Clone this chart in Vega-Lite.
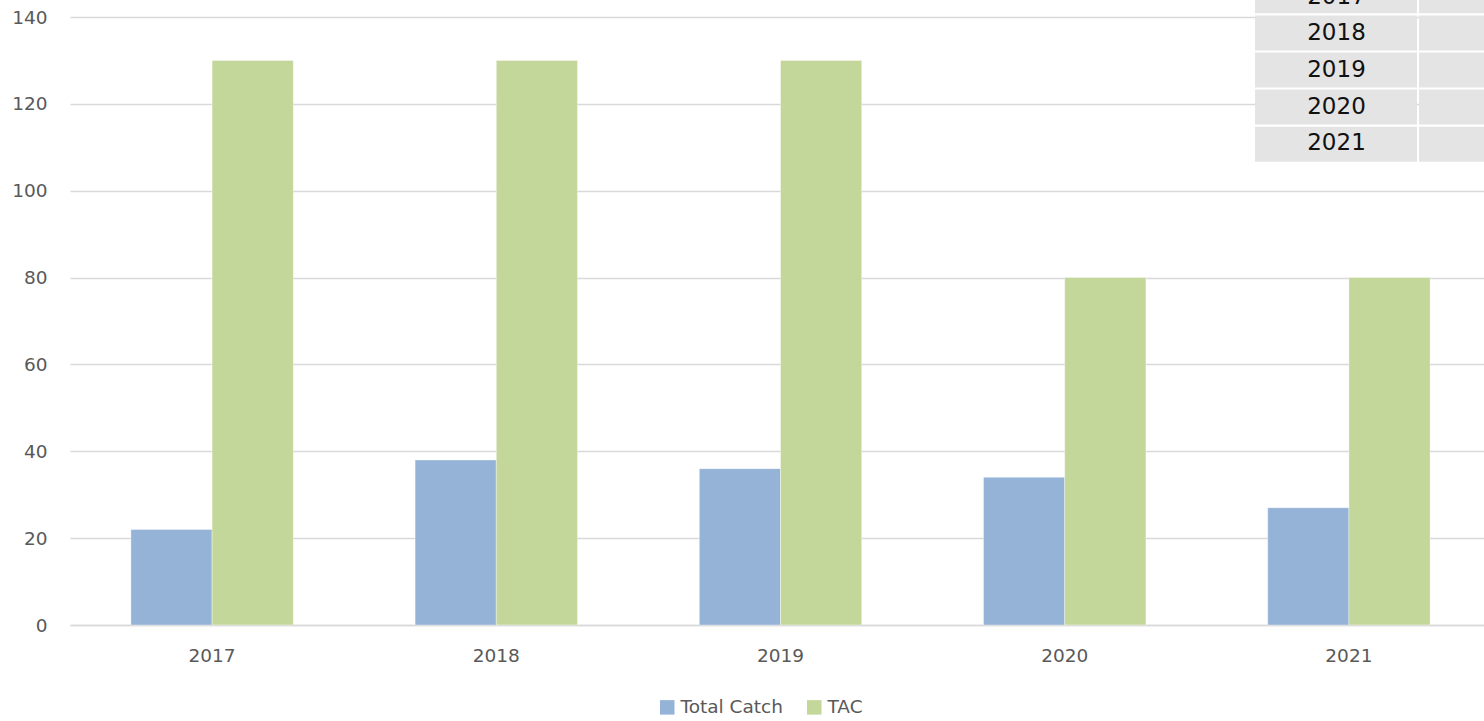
{
  "$schema": "https://vega.github.io/schema/vega-lite/v6.json",
  "width": 1421,
  "height": 608,
  "autosize": {"type": "none"},
  "padding": {"left": 70, "top": 17, "right": 0, "bottom": 96},
  "config": {"view": {"stroke": null}, "font": "DejaVu Sans"},
  "datasets": {
    "bars": [
      {"year": "2017", "series": "Total Catch", "value": 22},
      {"year": "2017", "series": "TAC", "value": 130},
      {"year": "2018", "series": "Total Catch", "value": 38},
      {"year": "2018", "series": "TAC", "value": 130},
      {"year": "2019", "series": "Total Catch", "value": 36},
      {"year": "2019", "series": "TAC", "value": 130},
      {"year": "2020", "series": "Total Catch", "value": 34},
      {"year": "2020", "series": "TAC", "value": 80},
      {"year": "2021", "series": "Total Catch", "value": 27},
      {"year": "2021", "series": "TAC", "value": 80}
    ],
    "table": [
      {"row": "2017", "col": "Year", "label": "2017"},
      {"row": "2017", "col": "Value", "label": ""},
      {"row": "2018", "col": "Year", "label": "2018"},
      {"row": "2018", "col": "Value", "label": ""},
      {"row": "2019", "col": "Year", "label": "2019"},
      {"row": "2019", "col": "Value", "label": ""},
      {"row": "2020", "col": "Year", "label": "2020"},
      {"row": "2020", "col": "Value", "label": ""},
      {"row": "2021", "col": "Year", "label": "2021"},
      {"row": "2021", "col": "Value", "label": ""}
    ]
  },
  "layer": [
    {
      "data": {"name": "bars"},
      "mark": {"type": "bar", "stroke": "#ffffff", "strokeWidth": 0.6, "strokeOpacity": 0.6},
      "encoding": {
        "x": {
          "field": "year", "type": "nominal",
          "scale": {"paddingInner": 0.4286, "paddingOuter": 0.2143},
          "axis": {"title": null, "labelAngle": 0, "ticks": false, "grid": false, "domainColor": "#d9d9d9", "domainWidth": 1.5, "labelColor": "#595959", "labelFontSize": 18.5, "labelPadding": 21}
        },
        "xOffset": {"field": "series", "type": "nominal", "sort": ["Total Catch", "TAC"], "scale": {"paddingInner": 0, "paddingOuter": 0}},
        "y": {
          "field": "value", "type": "quantitative",
          "scale": {"domain": [0, 140]},
          "axis": {"title": null, "values": [0, 20, 40, 60, 80, 100, 120, 140], "ticks": false, "domain": false, "gridColor": "#d9d9d9", "gridWidth": 1.5, "labelColor": "#595959", "labelFontSize": 18.5, "labelPadding": 23}
        },
        "color": {
          "field": "series", "type": "nominal", "sort": ["Total Catch", "TAC"],
          "scale": {"range": ["#95B3D7", "#C4D79B"]},
          "legend": {"orient": "none", "legendX": 588, "legendY": 681, "direction": "horizontal", "title": null, "symbolType": "square", "symbolSize": 210, "symbolStrokeWidth": 0, "labelFontSize": 18.5, "labelColor": "#595959", "columnPadding": 22, "labelOffset": 4}
        }
      }
    },
    {
      "data": {"name": "table"},
      "mark": {"type": "rect", "color": "#e4e4e4"},
      "encoding": {
        "x": {"field": "col", "type": "nominal", "sort": ["Year", "Value"], "scale": {"range": [1185, 1511], "paddingInner": 0.012, "paddingOuter": 0}, "axis": null},
        "y": {"field": "row", "type": "nominal", "sort": ["2017", "2018", "2019", "2020", "2021"], "scale": {"range": [-38.7, 144.7], "paddingInner": 0.055, "paddingOuter": 0}, "axis": null}
      }
    },
    {
      "data": {"name": "table"},
      "mark": {"type": "text", "color": "#111111", "fontSize": 23, "font": "DejaVu Sans", "baseline": "middle", "align": "center"},
      "encoding": {
        "x": {"field": "col", "type": "nominal", "sort": ["Year", "Value"], "scale": {"range": [1185, 1511], "paddingInner": 0.012, "paddingOuter": 0}, "axis": null},
        "y": {"field": "row", "type": "nominal", "sort": ["2017", "2018", "2019", "2020", "2021"], "scale": {"range": [-38.7, 144.7], "paddingInner": 0.055, "paddingOuter": 0}, "axis": null},
        "text": {"field": "label"}
      }
    }
  ],
  "resolve": {"scale": {"x": "independent", "y": "independent"}, "axis": {"x": "independent", "y": "independent"}}
}
